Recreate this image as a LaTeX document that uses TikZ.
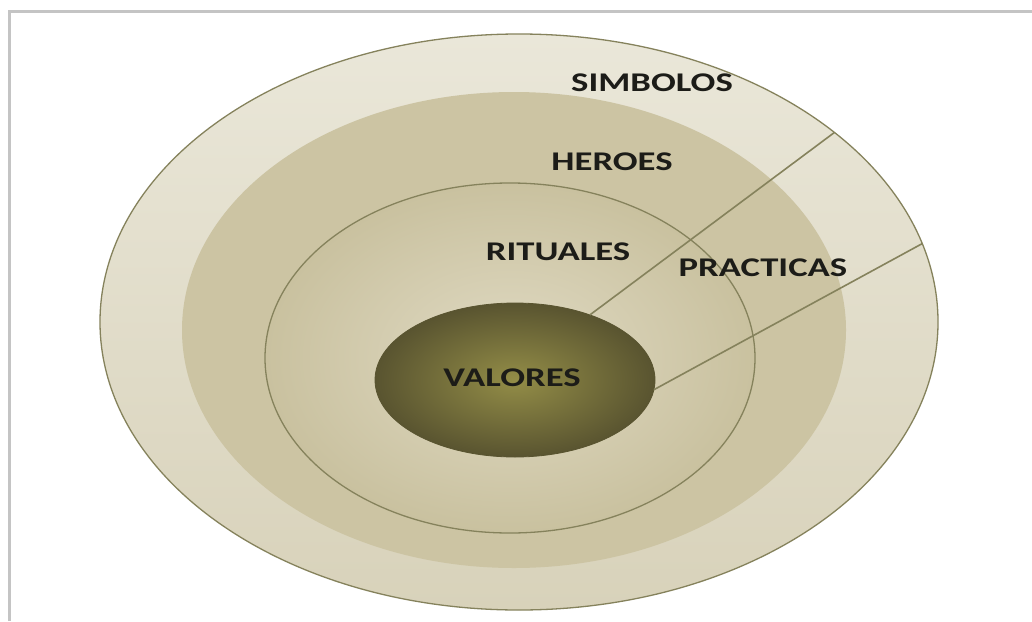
\documentclass[tikz,border=0pt]{standalone}
\usepackage{fontspec}
\setmainfont{Carlito}
\usetikzlibrary{shapes.geometric}
\definecolor{frame}{HTML}{C4C4C4}
\definecolor{rim}{HTML}{85825C}
\definecolor{ringA}{HTML}{EAE7D9}
\definecolor{ringAb}{HTML}{D8D2BA}
\definecolor{ringB}{HTML}{CCC4A3}
\definecolor{ringCin}{HTML}{E0DAC3}
\definecolor{ringCout}{HTML}{C9C19F}
\definecolor{coreIn}{HTML}{938D47}
\definecolor{coreOut}{HTML}{595430}
\definecolor{ink}{HTML}{1C1C18}
\newcommand{\lbltext}[1]{\scalebox{1.36}[1]{#1}}
\tikzset{
  layer/.style={ellipse, draw=rim, line width=1.3pt, inner sep=0pt, outer sep=0pt},
  lbl/.style={font=\bfseries\fontsize{27}{27}\selectfont, text=ink, inner sep=0pt},
  ray/.style={draw=rim, line width=1.6pt}
}
\begin{document}
\begin{tikzpicture}[x=1pt,y=-1pt]
\useasboundingbox (0,0) rectangle (1032,621);
\fill[white] (0,0) rectangle (1032,621);
% frame
\draw[frame, line width=3pt] (9.5,621) -- (9.5,11) -- (1032,11);
% rings
\node[layer, top color=ringA, bottom color=ringAb, minimum width=838pt, minimum height=576pt] (simb) at (519,322) {};
\node[layer, draw=none, fill=ringB, minimum width=664pt, minimum height=476pt] (hero) at (514,330) {};
\node[layer, inner color=ringCin, outer color=ringCout, minimum width=490pt, minimum height=350pt] (ritu) at (510,358) {};
\node[layer, draw=coreOut, line width=0.8pt, inner color=coreIn, outer color=coreOut, minimum width=280pt, minimum height=154pt] (valo) at (515,380) {};
% rays
\draw[ray] (valo.41) -- (simb.31.5);
\draw[ray] (valo.-4) -- (simb.11.5);
% labels
\node[lbl] (tsimb) at (652,83) {\lbltext{SIMBOLOS}};
\node[lbl] (thero) at (612,162) {\lbltext{HEROES}};
\node[lbl] (tritu) at (558,252) {\lbltext{RITUALES}};
\node[lbl] (tprac) at (763,268) {\lbltext{PRACTICAS}};
\node[lbl] (tvalo) at (512,378) {\lbltext{VALORES}};
\end{tikzpicture}
\end{document}
